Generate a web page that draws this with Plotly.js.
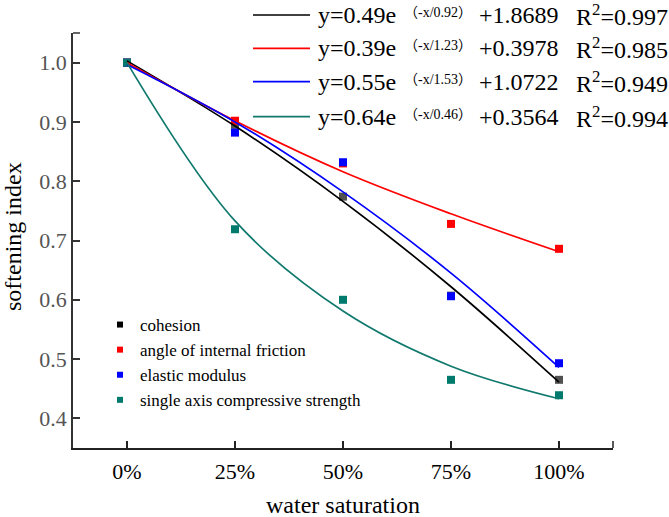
<!DOCTYPE html>
<html>
<head>
<meta charset="utf-8">
<script src="https://cdn.plot.ly/plotly-3.0.1.min.js"></script>
<style>
  html, body { margin: 0; padding: 0; background: #fff; }
  #chart { width: 669px; height: 517px; }
</style>
</head>
<body>
<div id="chart"></div>
<script>
// ---- data ----
const waterSaturation = [0, 25, 50, 75, 100];
const tickLabels = ['0%', '25%', '50%', '75%', '100%'];

// measured softening index (points)
const cohesionPts   = [1.000, 0.895, 0.774, 0.607, 0.465];
const frictionPts   = [1.000, 0.902, 0.830, 0.728, 0.686];
const elasticPts    = [1.000, 0.882, 0.832, 0.606, 0.493];
const ucsPts        = [1.000, 0.719, 0.600, 0.465, 0.439];

// fitted curves at the same abscissas
const cohesionFit   = [1.003, 0.893, 0.766, 0.622, 0.461];
const frictionFit   = [1.000, 0.902, 0.816, 0.745, 0.681];
const elasticFit    = [0.997, 0.900, 0.782, 0.645, 0.486];
const ucsFit        = [1.000, 0.733, 0.581, 0.488, 0.433];

const seriesNames = ['cohesion', 'angle of internal friction', 'elastic modulus', 'single axis compressive strength'];
const fitMain  = ['y=0.49e', 'y=0.39e', 'y=0.55e', 'y=0.64e'];
const fitExp   = ['-x/0.92', '-x/1.23', '-x/1.53', '-x/0.46'];
const fitConst = ['+1.8689', '+0.3978', '+1.0722', '+0.3564'];
const fitR2    = ['0.997', '0.985', '0.949', '0.994'];
const xTitle = 'water saturation';
const yTitle = 'softening index';

// ---- styling ----
const pointColors = ['#505050', '#ff0000', '#0000ff', '#007a6c'];
const legendColors = ['#000000', '#ff0000', '#0000ff', '#007a6c'];
const lineColors = ['#000000', '#ff0000', '#0000ff', '#10796d'];
const serif = 'Times New Roman, Liberation Serif, DejaVu Serif, serif';
const cjk = '<span style="font-family:Noto Sans CJK SC">';

const W = 669, H = 517;
const M = {l: 73, r: 56, t: 33, b: 69};
const pw = W - M.l - M.r, ph = H - M.t - M.b;
const px2x = px => (px - M.l) / pw;
const py2y = py => (H - M.b - py) / ph;

const pts = [cohesionPts, frictionPts, elasticPts, ucsPts];
const fits = [cohesionFit, frictionFit, elasticFit, ucsFit];

const traces = [];
// measured points
pts.forEach((p, i) => {
  traces.push({
    x: waterSaturation, y: p, type: 'scatter', mode: 'markers',
    marker: {symbol: 'square', size: 8, color: pointColors[i]},
    showlegend: false
  });
});
// fitted lines
fits.forEach((f, i) => {
  traces.push({
    x: waterSaturation, y: f, type: 'scatter', mode: 'lines',
    line: {color: lineColors[i], width: 1.7, shape: 'spline', smoothing: 1},
    showlegend: false, hoverinfo: 'skip'
  });
});
// legend entries
seriesNames.forEach((n, i) => {
  traces.push({
    x: [null], y: [null], type: 'scatter', mode: 'markers', name: n,
    legendgroup: 'g' + i,
    marker: {symbol: 'square', size: 6, color: legendColors[i]},
    showlegend: true
  });
});

// top-right fit legend (lines + equations)
const rowsPy = [15, 48.3, 81.7, 116.7];
const shapes = [];
const annotations = [];
rowsPy.forEach((py, i) => {
  shapes.push({type: 'line', xref: 'paper', yref: 'paper',
    x0: px2x(253), x1: px2x(310), y0: py2y(py), y1: py2y(py),
    line: {color: lineColors[i], width: 1.7}});
  annotations.push({xref: 'paper', yref: 'paper', x: px2x(316), y: py2y(py),
    xanchor: 'left', yanchor: 'middle', showarrow: false,
    text: fitMain[i], font: {family: serif, size: 24, color: '#000'}});
  annotations.push({xref: 'paper', yref: 'paper', x: px2x(402), y: py2y(py - 4),
    xanchor: 'left', yanchor: 'middle', showarrow: false,
    text: cjk + '（</span>' + fitExp[i] + cjk + '）</span>',
    font: {family: serif, size: 14, color: '#000'}});
  annotations.push({xref: 'paper', yref: 'paper', x: px2x(477), y: py2y(py),
    xanchor: 'left', yanchor: 'middle', showarrow: false,
    text: fitConst[i], font: {family: serif, size: 24, color: '#000'}});
  annotations.push({xref: 'paper', yref: 'paper', x: px2x(574), y: py2y(py),
    xanchor: 'left', yanchor: 'middle', showarrow: false,
    text: 'R<sup>2</sup>=' + fitR2[i], font: {family: serif, size: 24, color: '#000'}});
});
// axis titles
annotations.push({xref: 'paper', yref: 'paper', x: 0.5, y: py2y(505),
  xanchor: 'center', yanchor: 'middle', showarrow: false,
  text: xTitle, font: {family: serif, size: 24, color: '#000'}});
annotations.push({xref: 'paper', yref: 'paper', x: px2x(13), y: py2y(237),
  xanchor: 'center', yanchor: 'middle', showarrow: false, textangle: -90,
  text: yTitle, font: {family: serif, size: 24, color: '#000'}});

// axis end caps (Origin style)
shapes.push({type: 'line', xref: 'paper', yref: 'paper', x0: 0, x1: 7 / pw, y0: 1, y1: 1,
  line: {color: '#333', width: 1.5}});
shapes.push({type: 'line', xref: 'paper', yref: 'paper', x0: 1, x1: 1, y0: 0, y1: 7 / ph,
  line: {color: '#222', width: 1.5}});

const layout = {
  width: W, height: H,
  margin: {l: M.l, r: M.r, t: M.t, b: M.b, pad: 0},
  paper_bgcolor: '#fff', plot_bgcolor: '#fff',
  font: {family: serif},
  showlegend: true,
  legend: {
    x: px2x(100), y: py2y(307), xanchor: 'left', yanchor: 'top',
    bgcolor: 'rgba(0,0,0,0)', borderwidth: 0,
    font: {family: serif, size: 17, color: '#000'},
    traceorder: 'grouped', tracegroupgap: 0, itemsizing: 'trace'
  },
  xaxis: {
    range: [-12.5, 112.5], tickvals: waterSaturation, ticktext: tickLabels,
    ticks: 'inside', ticklen: 7, tickwidth: 1.5, tickcolor: '#222',
    showline: true, linewidth: 1.8, linecolor: '#222',
    showgrid: false, zeroline: false,
    tickfont: {family: serif, size: 22, color: '#000'},
    ticklabelstandoff: 3
  },
  yaxis: {
    range: [0.35, 1.05], tickvals: [0.4, 0.5, 0.6, 0.7, 0.8, 0.9, 1.0], tickformat: '.1f',
    ticks: 'inside', ticklen: 7, tickwidth: 1.5, tickcolor: '#333',
    showline: true, linewidth: 1.8, linecolor: '#333',
    showgrid: false, zeroline: false,
    tickfont: {family: serif, size: 22, color: '#555'},
    ticklabelstandoff: 0
  },
  shapes: shapes,
  annotations: annotations
};

Plotly.newPlot('chart', traces, layout, {displayModeBar: false, responsive: false});
</script>
</body>
</html>
